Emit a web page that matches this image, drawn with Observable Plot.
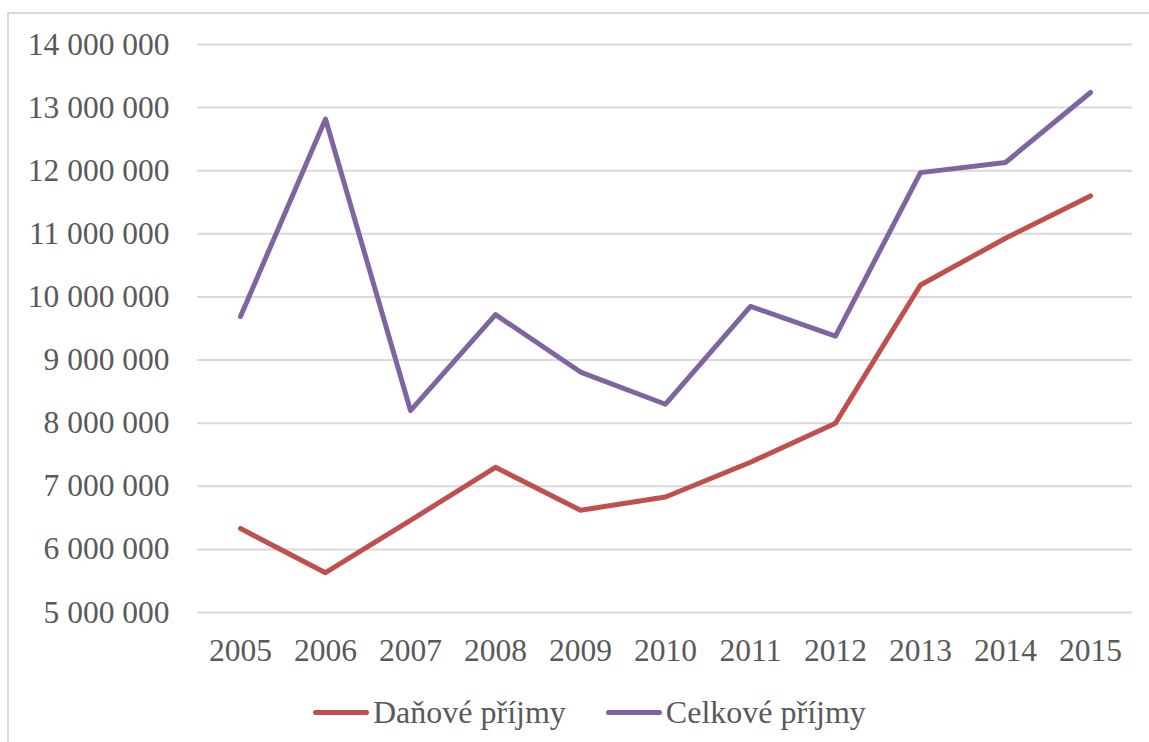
<!DOCTYPE html>
<html>
<head>
<meta charset="utf-8">
<script src="https://cdn.jsdelivr.net/npm/d3@7"></script>
<script src="https://cdn.jsdelivr.net/npm/@observablehq/plot@0.6"></script>
<style>
  html, body { margin: 0; padding: 0; background: #fff; width: 1149px; height: 742px; overflow: hidden; }
  #frame { position: absolute; left: 7px; top: 12px; width: 1200px; height: 800px; border: 2px solid #d9d9d9; box-sizing: border-box; pointer-events: none; }
  #chart { position: absolute; left: 0; top: 0; }
  #legend { position: absolute; left: 313px; top: 690px; height: 44px; display: flex; align-items: center; font-family: "Liberation Serif", "Times New Roman", serif; font-size: 32px; color: #595959; }
  .item { display: flex; align-items: center; margin-right: 40px; }
  .swatch { width: 56px; height: 5px; border-radius: 3px; margin-right: 4px; }
</style>
</head>
<body>
<div id="chart"></div>
<div id="legend"></div>
<div id="frame"></div>
<script>
const years = [2005, 2006, 2007, 2008, 2009, 2010, 2011, 2012, 2013, 2014, 2015];
const danovePrijmy = [6330000, 5630000, 6460000, 7300000, 6620000, 6830000, 7380000, 8000000, 10190000, 10930000, 11600000];
const celkovePrijmy = [9690000, 12820000, 8200000, 9720000, 8810000, 8300000, 9850000, 9380000, 11970000, 12130000, 13240000];
const seriesNames = ["Daňové příjmy", "Celkové příjmy"];
const seriesColors = ["#c0504d", "#8064a2"];
const yTicks = [5000000, 6000000, 7000000, 8000000, 9000000, 10000000, 11000000, 12000000, 13000000, 14000000];

const data = [];
years.forEach((y, i) => {
  data.push({year: String(y), value: danovePrijmy[i], series: seriesNames[0]});
  data.push({year: String(y), value: celkovePrijmy[i], series: seriesNames[1]});
});

const fmt = v => d3.format(",")(v).replace(/,/g, " ");

const plot = Plot.plot({
  width: 1149,
  height: 680,
  marginLeft: 197,
  marginRight: 17,
  marginTop: 44,
  marginBottom: 68,
  style: {fontFamily: "'Liberation Serif', 'Times New Roman', serif", fontSize: "31.5px", color: "#595959", background: "transparent"},
  x: {type: "point", domain: years.map(String), padding: 0.5, label: null},
  y: {domain: [5000000, 14000000], label: null},
  color: {domain: seriesNames, range: seriesColors},
  marks: [
    Plot.ruleY(yTicks, {stroke: "#d9d9d9", strokeWidth: 2}),
    Plot.axisY({ticks: yTicks, tickSize: 0, tickPadding: 28, tickFormat: fmt, label: null, fill: "#595959"}),
    Plot.axisX({tickSize: 0, tickPadding: 26, label: null, fill: "#595959"}),
    Plot.line(data, {x: "year", y: "value", z: "series", stroke: "series", strokeWidth: 5, strokeLinecap: "round", strokeLinejoin: "round"})
  ]
});
document.getElementById("chart").appendChild(plot);

const legend = document.getElementById("legend");
seriesNames.forEach((name, i) => {
  const item = document.createElement("div");
  item.className = "item";
  const sw = document.createElement("div");
  sw.className = "swatch";
  sw.style.background = seriesColors[i];
  const label = document.createElement("span");
  label.textContent = name;
  item.appendChild(sw);
  item.appendChild(label);
  legend.appendChild(item);
});
</script>
</body>
</html>
